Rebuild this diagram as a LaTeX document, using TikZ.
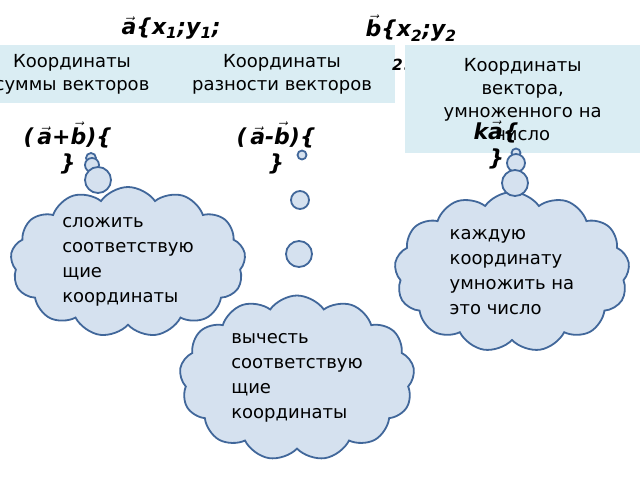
\documentclass[tikz,border=0pt]{standalone}
\usepackage{fontspec}
\setmainfont{DejaVu Sans}
\usetikzlibrary{shapes.symbols}
\definecolor{boxc}{HTML}{DAEDF3}
\definecolor{cloudf}{HTML}{D5E1EF}
\definecolor{clouds}{HTML}{41679A}
\tikzset{
 lbl/.style={fill=boxc,align=center,font=\fontsize{18}{23}\selectfont,inner sep=2pt},
 frm/.style={font=\bfseries\itshape\fontsize{22}{26}\selectfont,align=center,anchor=west},
 cl/.style={cloud,cloud puffs=13,cloud puff arc=110,aspect=1.5,draw=clouds,fill=cloudf,line width=1.8pt,align=left,font=\fontsize{18}{25}\selectfont,inner sep=0pt},
 bub/.style={circle,draw=clouds,fill=cloudf,line width=1.8pt,inner sep=0pt}
}
\begin{document}
\begin{tikzpicture}[x=1pt,y=-1pt]
\useasboundingbox (0,0) rectangle (640,480);
\node[frm] (a) at (118,28) {$\vec{\textbf{\textit{a}}}$\{x\textsubscript{1};y\textsubscript{1};};
\node[frm] (b) at (362,28) {$\vec{\textbf{\textit{b}}}$\{x\textsubscript{2};y\textsubscript{2}};
\path[fill=boxc] (0,45) rectangle (395,103);
\node[frm,anchor=west,inner sep=0pt] (b2) at (392,60) {\textsubscript{2}\}};
\node[lbl,fill=none] (s) at (72,74) {Координаты\\суммы векторов};
\node[lbl,fill=none] (d) at (282,74) {Координаты\\разности векторов};
\node[lbl,minimum width=235pt,minimum height=108pt,anchor=north west,text width=230pt,inner ysep=6pt] (k) at (405,45) {Координаты\\вектора,\\умноженного на\\число};
\node[frm] (ab) at (20,148) {(\,$\vec{\textbf{\textit{a}}}$+$\vec{\textbf{\textit{b}}}$)\{\\\}};
\node[frm] (amb) at (233,148) {(\,$\vec{\textbf{\textit{a}}}$-$\vec{\textbf{\textit{b}}}$)\{\\\}};
\node[frm] (ka) at (470,145) {k$\vec{\textbf{\textit{a}}}$\{\\\}};
\node[cl,minimum width=235pt,minimum height=150pt] (c1) at (128,262) {сложить\\соответствую\\щие\\координаты};
\node[cl,minimum width=235pt,minimum height=160pt] (c2) at (512,272) {каждую\\координату\\умножить на\\это число};
\node[cl,minimum width=235pt,minimum height=165pt] (c3) at (297,378) {вычесть\\соответствую\\щие\\координаты};
\node[bub,minimum size=10pt] (p1) at (91,158) {};
\node[bub,minimum size=14pt] (p2) at (92,165) {};
\node[bub,minimum size=26pt] (p3) at (98,180) {};
\node[bub,minimum size=9pt] (q1) at (302,155) {};
\node[bub,minimum size=18pt] (q2) at (300,200) {};
\node[bub,minimum size=26pt] (q3) at (299,254) {};
\node[bub,minimum size=9pt] (r1) at (516,153) {};
\node[bub,minimum size=18pt] (r2) at (516,163) {};
\node[bub,minimum size=26pt] (r3) at (515,183) {};
\end{tikzpicture}
\end{document}
